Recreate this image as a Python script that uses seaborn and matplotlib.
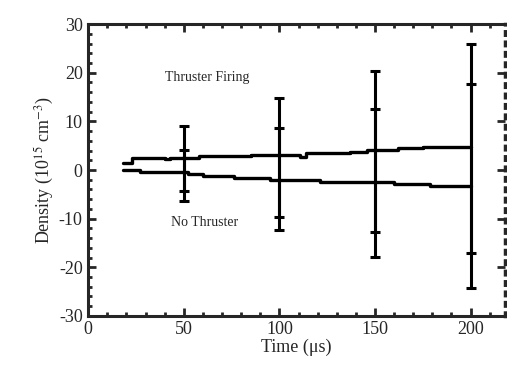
import numpy as np
import pandas as pd
import matplotlib
matplotlib.use("Agg")
import matplotlib.pyplot as plt
from matplotlib.ticker import MultipleLocator
import seaborn as sns

# 数据
fire_t = [18, 23, 40, 43, 58, 85, 95, 111, 114, 137, 146, 162, 175, 200]
fire_v = [1.4, 2.5, 2.3, 2.5, 2.9, 3.0, 3.0, 2.7, 3.6, 3.8, 4.1, 4.6, 4.8, 4.8]
none_t = [18, 27, 52, 60, 76, 95, 121, 160, 179, 200]
none_v = [-0.1, -0.4, -0.8, -1.2, -1.7, -2.0, -2.5, -2.8, -3.2, -3.3]

err_t = [50, 100, 150, 200]
fire_hi = [9.0, 14.8, 20.4, 26.0]
fire_lo = [-4.4, -9.6, -12.7, -17.1]
none_hi = [4.1, 8.6, 12.5, 17.6]
none_lo = [-6.3, -12.3, -17.8, -24.3]

sns.set_style("ticks")
plt.rcParams['font.family'] = ['Liberation Serif', 'DejaVu Serif']
plt.rcParams['mathtext.fontset'] = 'stix'
plt.rcParams['axes.unicode_minus'] = False

fig = plt.figure(figsize=(5.07, 3.66), dpi=100)
ax = fig.add_axes([0.174, 0.137, 0.822, 0.797])

df_fire = pd.DataFrame({"t": fire_t, "v": fire_v})
df_none = pd.DataFrame({"t": none_t, "v": none_v})
sns.lineplot(data=df_fire, x="t", y="v", ax=ax, color="black", lw=2.4, drawstyle="steps-post")
sns.lineplot(data=df_none, x="t", y="v", ax=ax, color="black", lw=2.4, drawstyle="steps-post")

for hi, lo in [(fire_hi, fire_lo), (none_hi, none_lo)]:
    hi = np.array(hi)
    lo = np.array(lo)
    mid = (hi + lo) / 2
    ax.errorbar(err_t, mid, yerr=[mid - lo, hi - mid], fmt="none", ecolor="black",
                elinewidth=2.2, capsize=3.5, capthick=2.2)

ax.text(62, 19, "Thruster Firing", fontsize=10, ha="center", va="center")
ax.text(61, -10.9, "No Thruster", fontsize=10, ha="center", va="center")

ax.set_xlim(0, 218)
ax.set_ylim(-30, 30)
ax.xaxis.set_major_locator(MultipleLocator(50))
ax.xaxis.set_minor_locator(MultipleLocator(10))
ax.yaxis.set_major_locator(MultipleLocator(10))
ax.yaxis.set_minor_locator(MultipleLocator(2))
ax.tick_params(which="both", direction="in", top=True, right=True, width=2, labelsize=13, pad=4)
ax.tick_params(which="major", length=6)
ax.tick_params(which="minor", length=3)
ax.tick_params(axis="y", which="minor", right=False)

for s in ["left", "bottom", "top"]:
    ax.spines[s].set_linewidth(2.2)
ax.spines["right"].set_linewidth(2.5)
ax.spines["right"].set_linestyle((0, (1, 2)))

ax.set_xlabel("Time (\u03bcs)", fontsize=13, labelpad=0)
ax.set_ylabel("Density (10$^{15}$ cm$^{-3}$)", fontsize=13, labelpad=2)

fig.savefig("out.png", dpi=100)
